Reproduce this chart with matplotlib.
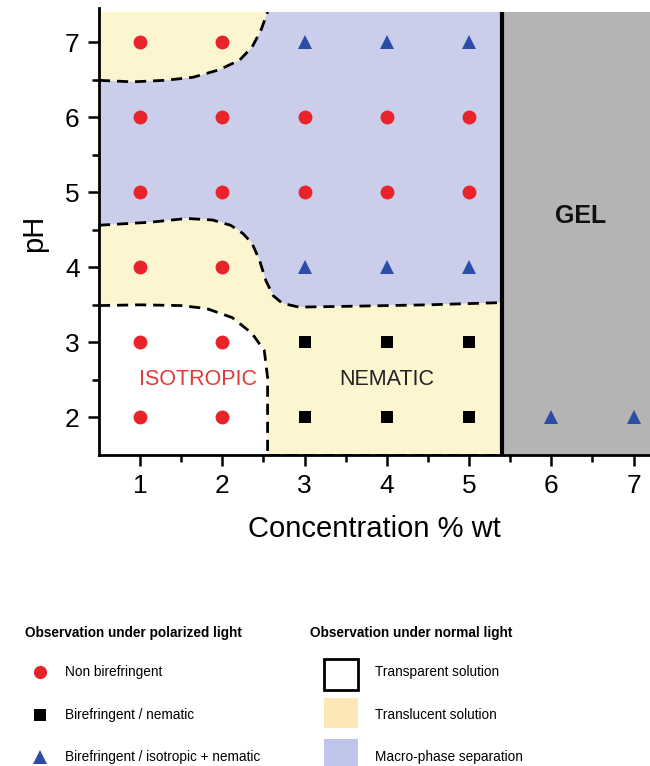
import numpy as np
import matplotlib.pyplot as plt
from matplotlib.patches import Polygon, Rectangle

plt.rcParams['font.family'] = ['Liberation Sans', 'DejaVu Sans']

# Observations (concentration % wt, pH)
circ_x = [1, 1, 1, 1, 1, 1, 2, 2, 2, 2, 2, 2, 3, 3, 4, 4, 5, 5]
circ_y = [2, 3, 4, 5, 6, 7, 2, 3, 4, 5, 6, 7, 5, 6, 5, 6, 5, 6]
sq_x = [3, 4, 5, 3, 4, 5]
sq_y = [2, 2, 2, 3, 3, 3]
tri_x = [3, 4, 5, 3, 4, 5, 6, 7]
tri_y = [7, 7, 7, 4, 4, 4, 2, 2]

# Phase boundaries
top_x = [0.5, 0.91, 1.3, 1.64, 1.96, 2.21, 2.36, 2.47, 2.55]
top_y = [6.49, 6.47, 6.49, 6.53, 6.63, 6.76, 6.93, 7.16, 7.4]
mid_x = [0.5, 1.12, 1.57, 1.88, 2.1, 2.25, 2.36, 2.45, 2.53, 2.62, 2.73, 2.93, 3.5, 4.5, 5.4]
mid_y = [4.56, 4.60, 4.65, 4.63, 4.56, 4.45, 4.32, 4.1, 3.82, 3.62, 3.52, 3.47, 3.48, 3.5, 3.53]
iso_x = [0.5, 1.0, 1.5, 1.81, 2.12, 2.36, 2.51, 2.55, 2.55]
iso_y = [3.49, 3.5, 3.49, 3.45, 3.33, 3.12, 2.89, 2.53, 1.5]
gel_x = 5.4

xmin, xmax = 0.5, 7.2
ymin, ymax = 1.5, 7.4

yellow = '#FBF6D0'
blue = '#CBCEEB'
gray = '#B6B3B5'
red = '#E8232A'
dblue = '#2C4DA6'

fig = plt.figure(figsize=(6.5, 7.66), dpi=100)
ax = fig.add_axes([99/650, 1-455/766, 1-99/650, (455-12)/766])

# regions
up_poly = [(xmin, ymax)] + list(zip(top_x, top_y))
ax.add_patch(Polygon(up_poly, closed=True, facecolor=yellow, edgecolor='none'))
blue_poly = list(zip(top_x, top_y)) + [(gel_x, ymax), (gel_x, mid_y[-1])] + list(zip(mid_x, mid_y))[::-1]
ax.add_patch(Polygon(blue_poly, closed=True, facecolor=blue, edgecolor='none'))
mid_poly = list(zip(mid_x, mid_y)) + [(gel_x, ymin)] + list(zip(iso_x, iso_y))[::-1]
ax.add_patch(Polygon(mid_poly, closed=True, facecolor=yellow, edgecolor='none'))
ax.add_patch(Rectangle((gel_x, ymin), xmax - gel_x, ymax - ymin, facecolor=gray, edgecolor='none'))

dash = dict(color='black', linestyle=(0, (4, 2.5)), linewidth=2)
ax.plot(top_x, top_y, **dash)
ax.plot(mid_x, mid_y, **dash)
ax.plot(iso_x, iso_y, **dash)
ax.plot([iso_x[-1], gel_x], [ymin, ymin], **dash)
ax.axvline(gel_x, color='black', linewidth=3)

ax.plot(circ_x, circ_y, 'o', color=red, markersize=10, markeredgewidth=0, clip_on=False)
ax.plot(sq_x, sq_y, 's', color='black', markersize=8.5, markeredgewidth=0)
ax.plot(tri_x, tri_y, '^', color=dblue, markersize=10.5, markeredgewidth=0)

ax.text(1.7, 2.5, 'ISOTROPIC', color='#E0393B', fontsize=15.5, ha='center', va='center')
ax.text(4.0, 2.5, 'NEMATIC', color='#222222', fontsize=15.5, ha='center', va='center')
ax.text(6.36, 4.68, 'GEL', color='#111111', fontsize=18, fontweight='bold', ha='center', va='center')

ax.set_xlim(xmin, xmax)
ax.set_ylim(ymin, ymax)
ax.set_xticks(range(1, 8))
ax.set_yticks(range(2, 8))
ax.set_xticks(np.arange(1.5, 7.5, 1), minor=True)
ax.set_yticks(np.arange(2.5, 7.5, 1), minor=True)
ax.tick_params(which='major', length=8, width=1.8, labelsize=19, pad=6)
ax.tick_params(which='minor', length=5, width=1.8)
ax.spines['top'].set_visible(False)
ax.spines['right'].set_visible(False)
ax.spines['left'].set_linewidth(2)
ax.spines['bottom'].set_linewidth(2)
ax.spines['left'].set_bounds(ymin, ymax + 0.05)
ax.set_xlabel('Concentration % wt', fontsize=21, labelpad=12)
ax.set_ylabel('pH', fontsize=21, labelpad=12)

# legend drawn in pixel-like coordinates
lg = fig.add_axes([0, 0, 1, 166/766])
lg.set_xlim(0, 650)
lg.set_ylim(766, 600)
lg.axis('off')
lg.text(25, 633, 'Observation under polarized light', fontsize=9.8, fontweight='bold', va='center')
lg.text(310, 633, 'Observation under normal light', fontsize=9.8, fontweight='bold', va='center')
left_labels = ['Non birefringent', 'Birefringent / nematic', 'Birefringent / isotropic + nematic']
right_labels = ['Transparent solution', 'Translucent solution', 'Macro-phase separation']
rows = [672, 715, 757]
lg.plot(40, rows[0], 'o', color=red, markersize=9.5, markeredgewidth=0)
lg.plot(40, rows[1], 's', color='black', markersize=8.5, markeredgewidth=0)
lg.plot(40, rows[2], '^', color=dblue, markersize=10.5, markeredgewidth=0)
for y, t in zip(rows, left_labels):
    lg.text(65, y, t, fontsize=9.8, va='center')
lg.add_patch(Rectangle((324, 659), 34, 31, facecolor='white', edgecolor='black', linewidth=2))
lg.add_patch(Rectangle((324, 698), 34, 30, facecolor='#FCE7B8', edgecolor='none'))
lg.add_patch(Rectangle((324, 739), 34, 30, facecolor='#BFC4EA', edgecolor='none', clip_on=False))
for y, t in zip(rows, right_labels):
    lg.text(375, y, t, fontsize=9.8, va='center')

fig.savefig('out.png', dpi=100)
